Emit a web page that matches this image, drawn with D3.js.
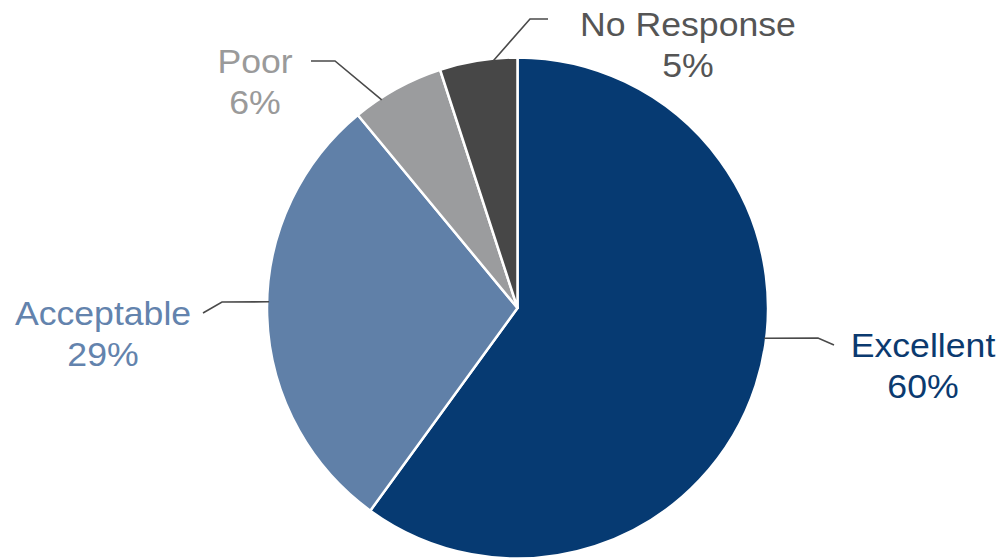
<!DOCTYPE html>
<html>
<head>
<meta charset="utf-8">
<script src="https://cdn.jsdelivr.net/npm/d3@7"></script>
<style>
  html, body { margin: 0; padding: 0; background: #fff; }
  svg { display: block; }
  text { font-family: "Liberation Sans", Arial, sans-serif; }
</style>
</head>
<body>
<svg id="chart" width="1001" height="559"></svg>
<script>
// Survey responses, clockwise from 12 o'clock
const categories = ["Excellent", "Acceptable", "Poor", "No Response"];
const shares = [60, 29, 6, 5];
const sliceColors = ["#063a72", "#6080a8", "#9b9c9e", "#474747"];
const labelColors = ["#0b3a6f", "#6383ad", "#9a9a9a", "#555555"];

// Label placement: where the leader meets the rim (fraction through the slice),
// the leader's bend and end, and the text block centre.
const anchorFrac = [0.449, 0.531, 0.30, 0.69];
const leaderBend = [[818, 338], [222, 302], [335, 61], [530, 19]];
const leaderEnd  = [[834, 345], [203, 313], [311, 61], [548, 19]];
const labelPos   = [[923, 357], [103, 325], [255, 73], [688, 36]];

const W = 1001, H = 559;
const cx = 517.5, cy = 308, R = 250.5;

const svg = d3.select("#chart");
const g = svg.append("g").attr("transform", `translate(${cx},${cy})`);

const pie = d3.pie().sort(null).value(d => d)(shares);
const arc = d3.arc().innerRadius(0).outerRadius(R);

g.selectAll("path.slice")
  .data(pie)
  .join("path")
  .attr("class", "slice")
  .attr("d", arc)
  .attr("fill", (d, i) => sliceColors[i])
  .attr("stroke", "#ffffff")
  .attr("stroke-width", 2.5)
  .attr("stroke-linejoin", "round");

// Leader lines from the rim out to each label
pie.forEach((d, i) => {
  const a = d.startAngle + (d.endAngle - d.startAngle) * anchorFrac[i];
  const rim = [cx + Math.sin(a) * (R - 2), cy - Math.cos(a) * (R - 2)];
  svg.append("polyline")
    .attr("points", [rim, leaderBend[i], leaderEnd[i]].map(p => p.join(",")).join(" "))
    .attr("fill", "none")
    .attr("stroke", "#4a4a4a")
    .attr("stroke-width", 1.6);
});

// Category name and percentage (type set slightly wide)
pie.forEach((d, i) => {
  const t = svg.append("text")
    .attr("transform", `translate(${labelPos[i][0]},${labelPos[i][1]}) scale(1.08,1)`)
    .attr("text-anchor", "middle")
    .attr("fill", labelColors[i])
    .attr("font-size", 33);
  t.append("tspan").attr("x", 0).text(categories[i]);
  t.append("tspan").attr("x", 0).attr("dy", 41).text(d.data + "%");
});
</script>
</body>
</html>
